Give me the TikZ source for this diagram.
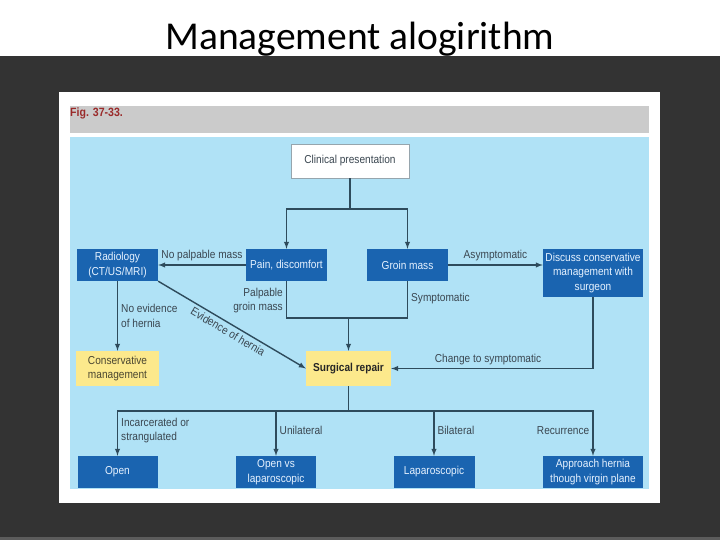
\documentclass[tikz,border=0pt]{standalone}
\usepackage{fontspec}
\setmainfont[FakeStretch=0.88]{Liberation Sans}
\newfontfamily\titlefont{Carlito}
\usepackage{tikz}
\usetikzlibrary{positioning,arrows}
\definecolor{darkbg}{HTML}{333333}
\definecolor{bandgray}{HTML}{CBCBCB}
\definecolor{figred}{HTML}{9A2A2A}
\definecolor{bgblue}{HTML}{B0E2F6}
\definecolor{boxblue}{HTML}{1A64B0}
\definecolor{boxtext}{HTML}{E6F2FF}
\definecolor{boxyellow}{HTML}{FCE98C}
\definecolor{yellowtext}{HTML}{4A4630}
\definecolor{linecol}{HTML}{2E4B5C}
\definecolor{labcol}{HTML}{3A4650}
\newcommand\boxfont{\fontsize{11.5}{14.5}\selectfont}
\tikzset{node distance=104pt, auto}
\tikzset{
	boxbase/.style={minimum height=32pt, inner sep=1pt, align=center, font=\boxfont},
	bluebox/.style={boxbase, fill=boxblue, text=boxtext, minimum width=81pt},
	yellowbox/.style={boxbase, fill=boxyellow, text=yellowtext, minimum height=35pt},
	whitebox/.style={boxbase, fill=white, draw=linecol!50, line width=0.8pt, text=labcol, minimum width=118pt, minimum height=34pt},
	lab/.style={text=labcol, font=\boxfont, inner sep=3pt},
	link/.style={draw=linecol, line width=1.4pt},
}

\begin{document}
\begin{tikzpicture}[x=1pt, y=1pt, >=latex]
		\useasboundingbox (0,0) rectangle (720,-540);
		% slide and figure frame
		\fill[white] (0,0) rectangle (720,-540);
		\fill[darkbg] (0,-56) rectangle (720,-540);
		\fill[darkbg!80!white] (0,-537) rectangle (720,-540);
		\fill[white] (59,-92) rectangle (660,-503);
		\fill[bandgray] (70,-106) rectangle (649,-133);
		\fill[bgblue] (70,-137) rectangle (649,-489);
		\node(title)[anchor=base, font=\titlefont\fontsize{39.5}{42}\selectfont] at (360,-50){Management alogirithm};
		\node(fig)[anchor=west, inner sep=0pt, text=figred, font=\bfseries\fontsize{12}{14}\selectfont] at (70,-113){Fig. 37-33.};
		% boxes
		\node(clin)[whitebox] at (350,-161){Clinical presentation};
		\node(rad)[bluebox] at (117.5,-265){Radiology\\(CT/US/MRI)};
		\node(pain)[bluebox, node distance=169pt, right of=rad]{Pain, discomfort};
		\node(groin)[bluebox, node distance=121pt, right of=pain]{Groin mass};
		\node(disc)[bluebox, minimum width=100pt, minimum height=48pt] at (593,-273){Discuss conservative\\management with\\surgeon};
		\node(cons)[yellowbox, minimum width=83pt, node distance=103.5pt, below of=rad]{Conservative\\management};
		\node(surg)[yellowbox, minimum width=85pt, font=\boxfont\bfseries, text=black!85] at (348.5,-368.5){Surgical repair};
		\node(open)[bluebox, minimum width=80pt, node distance=103.5pt, below of=cons]{Open};
		\node(openvs)[bluebox, minimum width=80pt, node distance=158.5pt, right of=open]{Open vs\\laparoscopic};
		\node(lap)[bluebox, node distance=158pt, right of=openvs]{Laparoscopic};
		\node(appr)[bluebox, minimum width=100pt, node distance=159pt, right of=lap]{Approach hernia\\though virgin plane};
		% junctions
		\coordinate(top) at (350,-209);
		\coordinate(mid) at (348.5,-318);
		\coordinate(bot) at (348.5,-411);
		% connectors
		\draw[link](clin) to (top);
		\draw[link,->](top) -| (pain);
		\draw[link,->](top) -| (groin);
		\draw[link,->](pain) to node[lab, above]{No palpable mass}(rad);
		\draw[link,->](groin.east) to node[lab, above]{Asymptomatic}(groin.east -| disc.west);
		\draw[link](pain) |- node[lab, pos=0.26, left, align=right]{Palpable\\groin mass}(mid);
		\draw[link](groin) |- node[lab, pos=0.24, right]{Symptomatic}(mid);
		\draw[link,->](mid) to (surg);
		\draw[link,->](rad) to node[lab, right, align=left]{No evidence\\of hernia}(cons);
		\draw[link,->](rad.south east) to node[lab, sloped, below]{Evidence of hernia}(surg.west);
		\draw[link,->](disc) |- node[lab, pos=0.76, above]{Change to symptomatic}(surg);
		\draw[link](surg) to (bot);
		\draw[link,->](bot) -| node[lab, pos=0.72, right, align=left]{Incarcerated or\\strangulated}(open);
		\draw[link,->](bot) -| node[lab, pos=0.72, right]{Unilateral}(openvs);
		\draw[link,->](bot) -| node[lab, pos=0.72, right]{Bilateral}(lap);
		\draw[link,->](bot) -| node[lab, pos=0.72, left]{Recurrence}(appr);
	\end{tikzpicture}
\end{document}
